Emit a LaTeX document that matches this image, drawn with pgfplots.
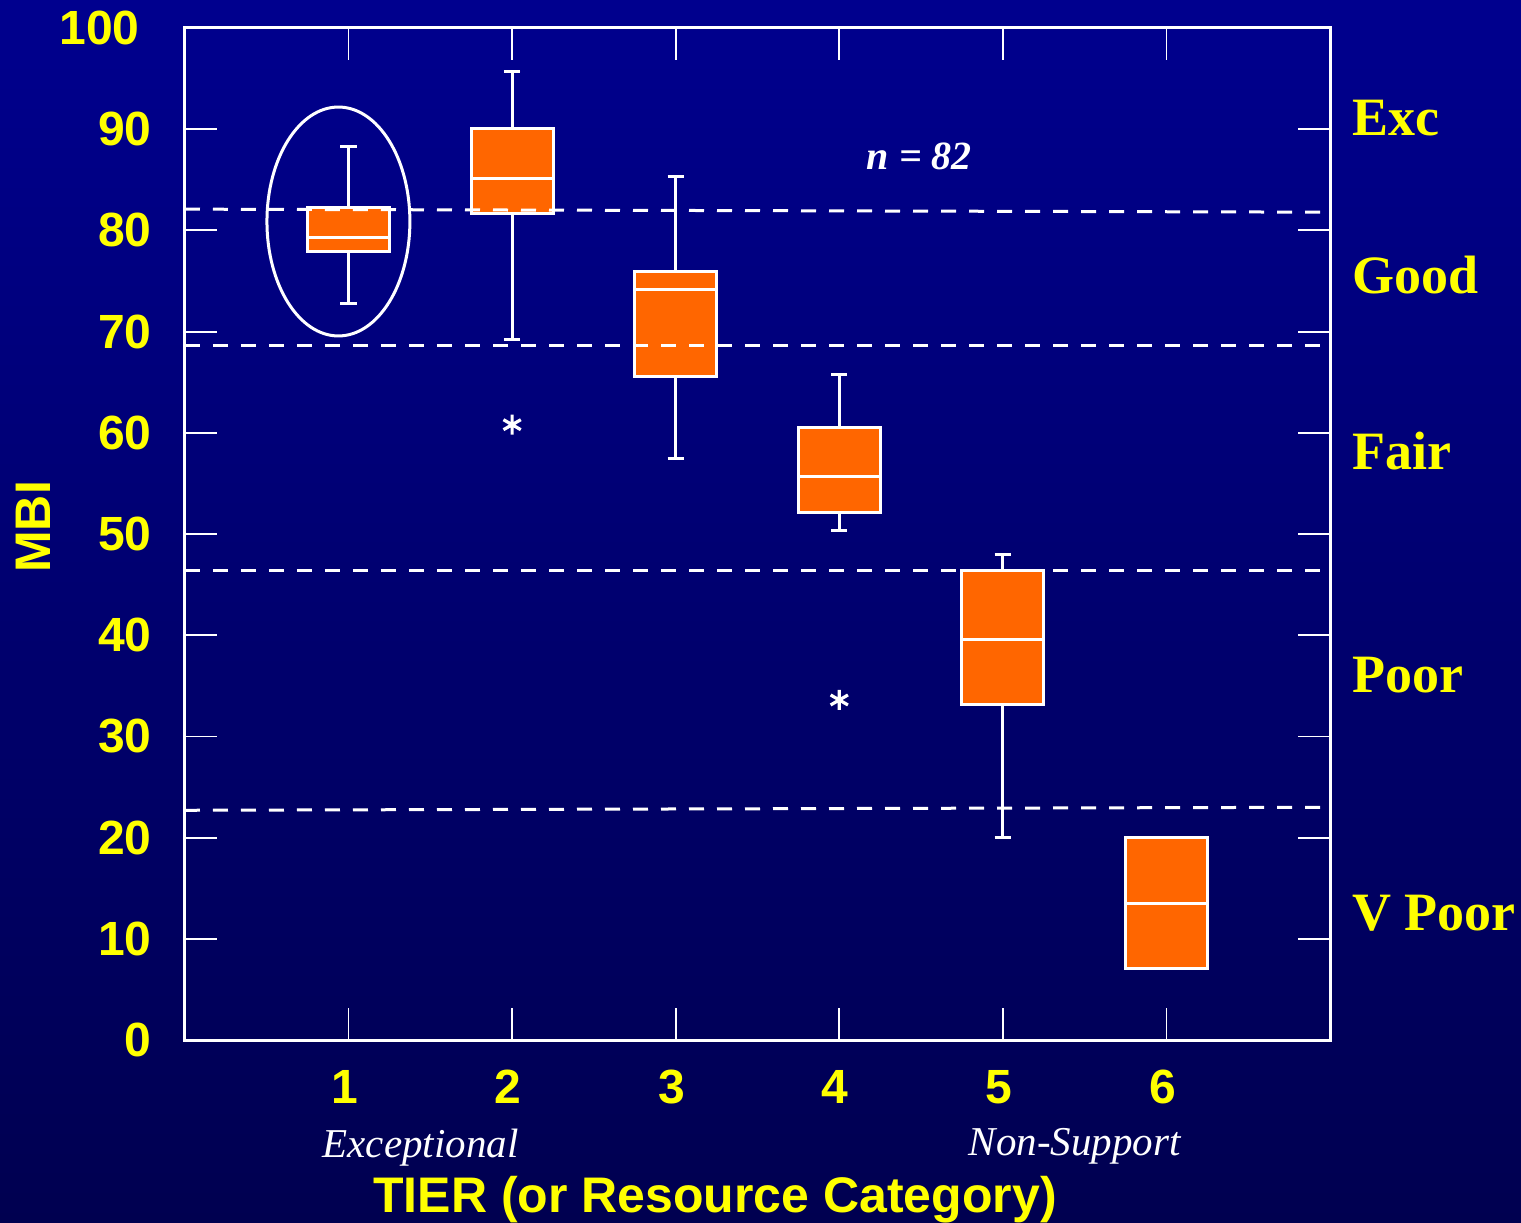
\documentclass[border=0pt]{standalone}
\usepackage{pgfplots}
\pgfplotsset{compat=1.18}
\usepgfplotslibrary{statistics}
\usepackage{fontspec}
\setmainfont{Liberation Serif}
\setsansfont{Liberation Sans}
\definecolor{bgtop}{RGB}{0,0,142}
\definecolor{bgbot}{RGB}{0,0,80}
\definecolor{boxorange}{RGB}{255,102,0}
\definecolor{ylw}{RGB}{255,255,0}
\begin{document}
\begin{tikzpicture}
\useasboundingbox (-92.5pt,-91pt) rectangle (668pt,520pt);
\shade[top color=bgtop, bottom color=bgbot] (-92.5pt,-91pt) rectangle (668pt,520pt);
\begin{axis}[
  at={(0pt,0pt)}, anchor=south west,
  scale only axis, width=572.5pt, height=506pt,
  xmin=0, xmax=7, ymin=0, ymax=100,
  xtick={1,2,3,4,5,6}, ytick={0,10,...,100},
  yticklabels={0,10,20,30,40,50,60,70,80,90,{100\kern6pt}},
  tick align=inside, xtick pos=both, ytick pos=both,
  major tick length=16pt,
  axis line style={white, line width=1.5pt},
  every tick/.style={white, line width=0.9pt},
  tick label style={font=\sffamily\bfseries\fontsize{24}{24}\selectfont, text=ylw, inner sep=0pt},
  yticklabel style={anchor=east, xshift=-16.5pt},
  xticklabel style={anchor=north, yshift=-15pt, xshift=-2pt},
  /pgf/number format/assume math mode=true,
  clip=false,
  xlabel={TIER (or Resource Category)},
  ylabel={MBI},
  label style={font=\sffamily\bfseries\fontsize{25}{25}\selectfont, text=ylw, inner sep=0pt},
  xlabel style={at={(axis description cs:0.463,-0.170)}, anchor=base},
  ylabel style={at={(axis description cs:-0.1328,0.507)}, anchor=center},
  boxplot/draw direction=y,
  boxplot/every median/.style={white, line width=1.5pt},
]
\pgfplotsset{mybox/.style={fill=boxorange, draw=white, line width=1.5pt, solid}}
\addplot[mybox, boxplot prepared={draw position=1, lower whisker=72.8, lower quartile=77.9, median=79.3, upper quartile=82.3, upper whisker=88.3, box extend=0.5, whisker extend=0.1}] coordinates {};
\addplot[mybox, boxplot prepared={draw position=2, lower whisker=69.2, lower quartile=81.7, median=85.1, upper quartile=90.1, upper whisker=95.7, box extend=0.5, whisker extend=0.1}] coordinates {};
\addplot[mybox, boxplot prepared={draw position=3, lower whisker=57.5, lower quartile=65.6, median=74.2, upper quartile=75.9, upper whisker=85.3, box extend=0.5, whisker extend=0.1}] coordinates {};
\addplot[mybox, boxplot prepared={draw position=4, lower whisker=50.3, lower quartile=52.1, median=55.7, upper quartile=60.5, upper whisker=65.8, box extend=0.5, whisker extend=0.1}] coordinates {};
\addplot[mybox, boxplot prepared={draw position=5, lower whisker=20.0, lower quartile=33.2, median=39.6, upper quartile=46.4, upper whisker=48.0, box extend=0.5, whisker extend=0.1}] coordinates {};
\addplot[mybox, boxplot prepared={draw position=6, lower whisker=7.1, lower quartile=7.1, median=13.5, upper quartile=20.0, upper whisker=20.0, box extend=0.5, whisker extend=0.1}] coordinates {};
% category boundaries
\addplot[white, line width=1.5pt, dash pattern=on 7.5pt off 6.5pt, mark=none] coordinates {(0,82.1) (7,81.8)};
\addplot[white, line width=1.5pt, dash pattern=on 7.5pt off 6.5pt, mark=none] coordinates {(0,68.6) (7,68.6)};
\addplot[white, line width=1.5pt, dash pattern=on 7.5pt off 6.5pt, mark=none] coordinates {(0,46.4) (7,46.4)};
\addplot[white, line width=1.5pt, dash pattern=on 7.5pt off 6.5pt, mark=none] coordinates {(0,22.7) (7,23.0)};
% outliers
\addplot[only marks, mark=asterisk, mark size=5pt, white, line width=1.6pt] coordinates {(2,60.8) (4,33.6)};
% ellipse
\draw[white, line width=1.5pt] (axis cs:0.938,80.88) ellipse [x radius=0.437, y radius=11.31];
% annotations
\node[anchor=center, font=\bfseries\itshape\fontsize{20}{20}\selectfont, text=white] at (axis cs:4.49,87.35) {n = 82};
\node[anchor=base, font=\itshape\fontsize{20.5}{20.5}\selectfont, text=white, inner sep=0pt, yshift=-58.5pt] at (axis cs:1.44,0) {Exceptional};
\node[anchor=base, font=\itshape\fontsize{20.5}{20.5}\selectfont, text=white, inner sep=0pt, yshift=-57.5pt] at (axis cs:5.44,0) {Non-Support};
\begin{scope}[every node/.style={anchor=west, font=\bfseries\fontsize{27}{27}\selectfont, text=ylw, inner sep=0pt, xshift=11pt}]
\node at (axis cs:7,91.1) {Exc};
\node at (axis cs:7,75.6) {Good};
\node at (axis cs:7,58.2) {Fair};
\node at (axis cs:7,36.1) {Poor};
\node at (axis cs:7,12.5) {V Poor};
\end{scope}
\end{axis}
\end{tikzpicture}
\end{document}
